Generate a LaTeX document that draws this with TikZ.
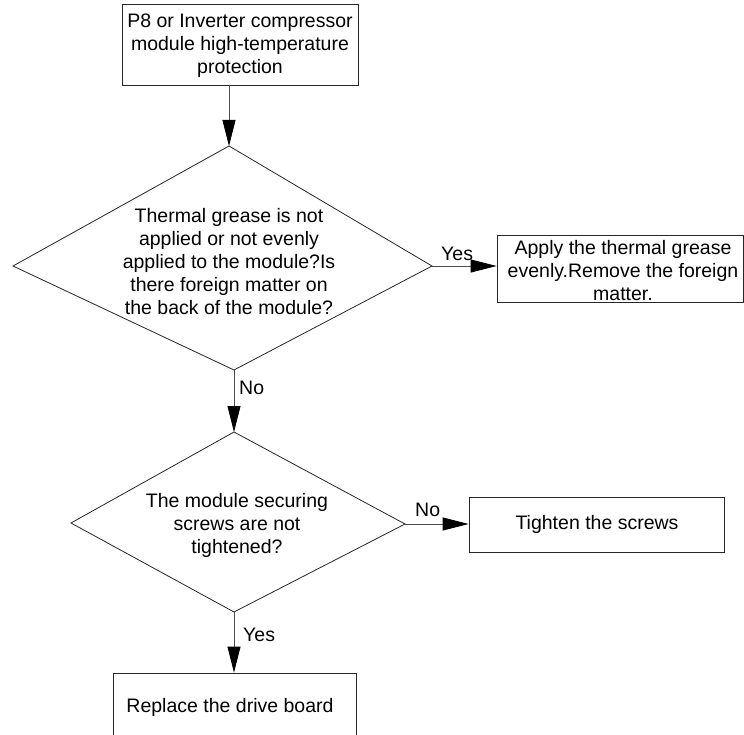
\documentclass[tikz,border=0pt]{standalone}
\usepackage{fontspec}
\setmainfont{Liberation Sans}
\usetikzlibrary{arrows.meta}
\begin{document}
\begin{tikzpicture}[x=1pt,y=-1pt,
  box/.style={draw=black!85, line width=0.8pt, rectangle, inner sep=0pt},
  txt/.style={align=center, font=\fontsize{19.5}{23}\selectfont, inner sep=0pt},
  lbl/.style={font=\fontsize{19.5}{23}\selectfont, inner sep=0pt, anchor=west},
  arr/.style={draw=black!70, line width=0.8pt, -{Triangle[length=26pt,width=13pt,color=black]}},
  shapeline/.style={draw=black!85, line width=0.8pt}]
\useasboundingbox (0,0) rectangle (744,735);

% top box
\node[box, minimum width=236pt, minimum height=81pt] (top) at (240,44.5) {};
\node[txt] (toptxt) at (240,46) {P8 or Inverter compressor\\module high-temperature\\protection};

% diamond 1
\coordinate (d1t) at (229,146);
\coordinate (d1l) at (13,266);
\coordinate (d1r) at (432,266);
\coordinate (d1b) at (234,370);
\draw[shapeline] (d1t) -- (d1r) -- (d1b) -- (d1l) -- cycle;
\node[txt] (d1txt) at (229,262) {Thermal grease is not\\applied or not evenly\\applied to the module?Is\\there foreign matter on\\the back of the module?};

% right box 1
\node[box, minimum width=246pt, minimum height=67pt] (r1) at (620,268.5) {};
\node[txt] (r1txt) at (623,271) {Apply the thermal grease\\evenly.Remove the foreign\\matter.};

% diamond 2
\coordinate (d2t) at (234,432);
\coordinate (d2l) at (71,523);
\coordinate (d2r) at (405,524);
\coordinate (d2b) at (234,612);
\draw[shapeline] (d2t) -- (d2r) -- (d2b) -- (d2l) -- cycle;
\node[txt] (d2txt) at (237,525) {The module securing\\screws are not\\tightened?};

% right box 2
\node[box, minimum width=255pt, minimum height=55pt] (r2) at (596.5,524.5) {};
\node[txt] (r2txt) at (597,524.5) {Tighten the screws};

% bottom box
\node[box, minimum width=243pt, minimum height=64pt] (bot) at (234.5,705) {};
\node[txt] (bottxt) at (230,707) {Replace the drive board};

% connectors
\draw[arr] (top.south -| d1t) -- (d1t);
\draw[arr] (d1r) -- (r1.west |- d1r);
\draw[arr] (d1b) -- (d2t);
\draw[arr] (d2r) -- (r2.west |- d2r);
\draw[arr] (d2b) -- (bot.north -| d2b);

% labels
\node[lbl] (yes1) at (441,254) {Yes};
\node[lbl] (no1) at (239,388) {No};
\node[lbl] (no2) at (415,510) {No};
\node[lbl] (yes2) at (243,635) {Yes};
\end{tikzpicture}
\end{document}
